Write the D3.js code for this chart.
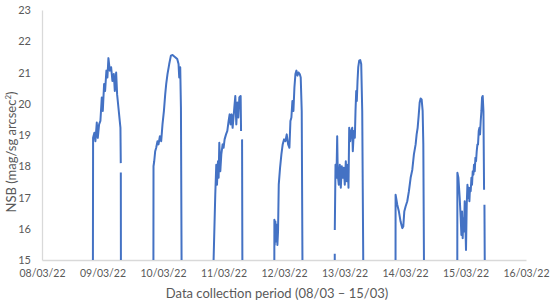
<!DOCTYPE html>
<html>
<head>
<meta charset="utf-8">
<script src="https://cdn.jsdelivr.net/npm/d3@7"></script>
<style>
  body { margin: 0; background: #fff; }
  svg { display: block; font-family: Lato, "Open Sans", sans-serif; }
</style>
</head>
<body>
<svg width="550" height="305"></svg>
<script>
// tick labels
const xTickLabels = ["08/03/22", "09/03/22", "10/03/22", "11/03/22", "12/03/22",
                     "13/03/22", "14/03/22", "15/03/22", "16/03/22"];
const yTicks = [15, 16, 17, 18, 19, 20, 21, 22, 23];

// evening date of each night
const nightDates = ["08/03/22", "09/03/22", "10/03/22", "11/03/22", "12/03/22", "13/03/22", "14/03/22"];

// [hours since midnight of the evening date, NSB]; null = missing reading
const night1 = [[20.2, 15], [20.27, 18.91], [20.78, 19.07], [21.18, 18.80], [21.74, 19.40], [22.13, 18.91],
  [22.65, 19.34], [23.17, 19.45], [23.72, 20.20], [24.12, 19.77], [24.64, 20.63], [25.04, 20.41],
  [25.55, 21.06], [25.95, 20.84], [26.35, 21.46], [26.90, 21.06], [27.42, 21.17], [27.94, 20.73],
  [28.49, 20.95], [28.89, 20.41], [29.41, 21.0], [29.80, 20.30], [30.32, 19.88], [31.12, 19.23],
  [31.25, 18.1], [31.26, null], [31.27, 17.8], [31.30, 15]];
const night2 = [[20.2, 15], [20.23, 18.0], [20.51, 18.16], [20.90, 18.48], [21.30, 18.59], [21.82, 18.80],
  [22.21, 18.70], [22.77, 18.96], [23.29, 18.80], [23.80, 19.34], [24.36, 19.77], [24.88, 20.31],
  [25.27, 20.63], [25.79, 20.95], [26.47, 21.27], [27.14, 21.54], [27.78, 21.56], [28.85, 21.49],
  [29.65, 21.43], [30.16, 21.27], [30.44, 20.84], [30.84, 21.17], [31.12, 19.88], [31.36, 15]];
const night3 = [[20.07, 15], [20.74, 17.09], [21.14, 18.05], [21.42, 17.41], [21.82, 18.16], [22.06, 17.63],
  [22.33, 18.75], [22.73, 17.84], [23.13, 18.38], [23.65, 18.70], [24.04, 18.59], [24.44, 18.86],
  [25.00, 19.02], [25.51, 19.13], [26.03, 19.45], [26.43, 19.66], [26.82, 19.34], [27.22, 19.66],
  [27.62, 19.23], [28.18, 19.77], [28.69, 20.25], [29.09, 19.34], [29.49, 20.04], [29.88, 19.56],
  [30.28, 20.20], [30.80, 20.25], [30.96, 19.13], [31.1, null], [31.36, 18.86], [31.48, 15]];
const night4 = [[20.17, 15], [20.19, 16.29], [20.32, 15.48], [20.59, 16.23], [20.86, 15.59], [21.12, 16.13],
  [21.38, 15.48], [21.64, 15.91], [21.91, 17.41], [22.44, 17.95], [22.97, 18.38], [23.49, 18.70],
  [24.04, 18.86], [24.56, 18.80], [25.08, 19.02], [25.63, 18.70], [26.15, 18.59], [26.55, 19.45],
  [26.94, 19.56], [27.34, 20.09], [27.74, 19.77], [28.14, 20.52], [28.53, 20.95], [28.93, 21.06],
  [29.33, 20.90], [29.73, 21.0], [30.25, 20.95], [30.64, 20.84], [31.04, 19.77], [31.32, 15]];
const night5 = [[20.13, 15], [20.14, 15.2], [20.145, null], [20.15, 15.96], [20.43, 18.05], [20.82, 17.63],
  [21.10, 18.96], [21.34, 17.73], [21.74, 17.41], [22.13, 18.05], [22.53, 17.31], [22.93, 18.0],
  [23.33, 17.63], [23.72, 17.95], [24.12, 17.41], [24.52, 18.16], [24.92, 17.52], [25.31, 18.05],
  [25.59, 17.31], [25.87, 19.23], [26.27, 18.80], [26.67, 19.13], [27.06, 19.23], [27.30, 18.48],
  [27.70, 19.13], [28.10, 18.91], [28.37, 19.77], [28.65, 20.41], [28.89, 20.09], [29.17, 20.73],
  [29.45, 21.17], [29.84, 21.38], [30.24, 21.40], [30.64, 21.27], [31.04, 19.77], [31.44, 15]];
const night6 = [[20.25, 15], [20.27, 17.09], [20.93, 16.77], [21.58, 16.55], [22.25, 16.23], [22.92, 16.02],
  [23.31, 16.07], [23.71, 16.55], [24.24, 16.71], [24.90, 16.88], [25.55, 17.20], [26.23, 17.63],
  [26.90, 17.89], [27.54, 18.38], [28.22, 18.70], [28.61, 19.02], [29.01, 19.23], [29.41, 19.61],
  [29.81, 20.04], [30.20, 20.17], [30.60, 20.14], [31.00, 19.77], [31.27, 18.70], [31.52, 15]];
const night7 = [[20.75, 15], [20.78, 17.79], [21.18, 17.63], [21.70, 16.98], [22.10, 16.34], [22.37, 15.80],
  [22.63, 16.55], [22.89, 15.70], [23.17, 16.34], [23.41, 15.91], [23.69, 16.88], [23.96, 16.13],
  [24.20, 15.32], [24.48, 16.77], [24.76, 17.41], [25.00, 16.98], [25.27, 17.31], [25.55, 16.88],
  [25.79, 17.31], [26.07, 17.20], [26.35, 17.63], [26.59, 17.41], [26.86, 17.84], [27.14, 17.73],
  [27.38, 18.05], [27.66, 17.84], [27.94, 18.27], [28.18, 18.16], [28.45, 18.48], [28.73, 18.70],
  [28.97, 18.70], [29.25, 19.13], [29.53, 19.23], [29.77, 19.02], [30.04, 19.45], [30.32, 19.77],
  [30.56, 20.20], [30.84, 20.25], [31.12, 19.77], [31.36, 17.25], [31.45, null], [31.52, 16.77], [31.64, 15]];
const nights = [night1, night2, night3, night4, night5, night6, night7];

const parseDay = d3.timeParse("%d/%m/%y");
const margin = { top: 10, right: 24, bottom: 45, left: 42 };
const width = 550, height = 305;

const svg = d3.select("svg");

const x = d3.scaleTime()
    .domain([parseDay(xTickLabels[0]), parseDay(xTickLabels[xTickLabels.length - 1])])
    .range([margin.left, width - margin.right]);
const y = d3.scaleLinear()
    .domain([15, 23])
    .range([height - margin.bottom, margin.top]);

// y axis
const yAxis = svg.append("g")
    .attr("transform", `translate(${margin.left},0)`)
    .call(d3.axisLeft(y).tickValues(yTicks).tickSize(0).tickPadding(11));
yAxis.select(".domain").attr("stroke", "#d9d9d9").attr("stroke-width", 1.3);
yAxis.selectAll("text").attr("fill", "#595959").attr("font-size", "11px")
    .attr("font-family", "Lato, sans-serif");

// x axis
const xAxis = svg.append("g")
    .attr("transform", `translate(0,${height - margin.bottom})`)
    .call(d3.axisBottom(x)
      .tickValues(xTickLabels.map(parseDay))
      .tickFormat(d3.timeFormat("%d/%m/%y"))
      .tickSize(0).tickPadding(10));
xAxis.select(".domain").attr("stroke", "#d9d9d9").attr("stroke-width", 1.3);
xAxis.selectAll("text").attr("fill", "#595959").attr("font-size", "10.5px")
    .attr("font-family", "Lato, sans-serif");

// series
const line = d3.line()
    .defined(d => d[1] !== null)
    .x(d => x(d[0]))
    .y(d => y(d[1]));

nights.forEach((pts, i) => {
  const base = parseDay(nightDates[i]);
  const data = pts.map(p => [d3.timeMinute.offset(base, Math.round(p[0] * 60)), p[1]]);
  svg.append("path")
      .datum(data)
      .attr("fill", "none")
      .attr("stroke", "#4472c4")
      .attr("stroke-width", 2)
      .attr("stroke-linejoin", "round")
      .attr("d", line);
});

// axis titles
svg.append("text")
    .attr("x", 277)
    .attr("y", 298)
    .attr("text-anchor", "middle")
    .attr("fill", "#595959")
    .attr("font-size", "13px")
    .text("Data collection period (08/03 \u2013 15/03)");

const yTitle = svg.append("text")
    .attr("transform", "translate(16,152) rotate(-90)")
    .attr("text-anchor", "middle")
    .attr("fill", "#595959")
    .attr("font-size", "13px");
yTitle.append("tspan").text("NSB (mag/sg arcsec");
yTitle.append("tspan").attr("font-size", "8px").attr("dy", "-5").text("2");
yTitle.append("tspan").attr("dy", "5").text(")");
</script>
</body>
</html>
